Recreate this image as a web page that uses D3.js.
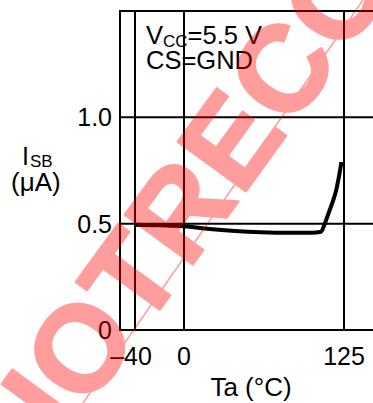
<!DOCTYPE html>
<html>
<head>
<meta charset="utf-8">
<script src="https://cdn.jsdelivr.net/npm/d3@7"></script>
<style>
html,body{margin:0;padding:0;background:#fff;}
svg{display:block;}
text{font-family:"Liberation Sans",Arial,Helvetica,sans-serif;fill:#000;}
</style>
</head>
<body>
<svg id="c" width="373" height="403"></svg>
<script>
// ---- data ----
const tempC   = [-40, -20, 0, 20, 40, 60, 80, 100, 107, 110, 113, 116, 119, 121, 123];
const isbUA   = [0.495, 0.492, 0.488, 0.475, 0.466, 0.460, 0.457, 0.457, 0.462, 0.50, 0.55, 0.60, 0.66, 0.72, 0.79];
const xTickVals   = [-40, 0, 125];
const xTickLabels = ["\u201340", "0", "125"];
const yTickVals   = [0, 0.5, 1.0];
const yTickLabels = ["0", "0.5", "1.0"];

const W = 373, H = 403;
const svg = d3.select("#c");

// scales (datasheet axis is slightly non-uniform between -40..0 and 0..125)
const x = d3.scaleLinear().domain([-52, -40, 0, 125, 150]).range([120, 135, 184, 344, 376]);
const y = d3.scaleLinear().domain([0, 1.5]).range([330, 11]);

const pL = x(-52), pR = W, pT = y(1.5), pB = y(0);

const g = svg.append("g");

// horizontal grid lines (incl. frame top/bottom)
g.selectAll("line.h").data(yTickVals.concat([1.5])).enter().append("line")
  .attr("x1", pL).attr("x2", pR)
  .attr("y1", d => y(d)).attr("y2", d => y(d))
  .attr("stroke", "#000").attr("stroke-width", 2);

// vertical lines (frame left + ticks)
g.selectAll("line.v").data([-52].concat(xTickVals)).enter().append("line")
  .attr("x1", d => x(d)).attr("x2", d => x(d))
  .attr("y1", pT - 1).attr("y2", pB + 1)
  .attr("stroke", "#000").attr("stroke-width", 2);

// y tick labels
g.selectAll("text.yl").data(yTickVals).enter().append("text")
  .attr("x", 112).attr("y", d => y(d)).attr("dy", "0.36em")
  .attr("text-anchor", "end").attr("font-size", 25)
  .text((d, i) => yTickLabels[i]);

// x tick labels
g.selectAll("text.xl").data(xTickVals).enter().append("text")
  .attr("x", (d, i) => x(d) + (i === 0 ? -4 : 0)).attr("y", 365)
  .attr("text-anchor", "middle").attr("font-size", 25)
  .text((d, i) => xTickLabels[i]);

// axis titles
svg.append("text").attr("x", 251).attr("y", 396).attr("text-anchor", "middle")
  .attr("font-size", 26).text("Ta (\u00B0C)");

const yl = svg.append("text").attr("x", 22).attr("y", 165).attr("font-size", 25);
yl.append("tspan").text("I");
yl.append("tspan").attr("font-size", 17).attr("dy", 2).attr("dx", 1).text("SB");
svg.append("text").attr("x", 11).attr("y", 191).attr("font-size", 26).text("(\u03BCA)");

// annotation
const a1 = svg.append("text").attr("x", 146).attr("y", 44).attr("font-size", 25.5);
a1.append("tspan").text("V");
a1.append("tspan").attr("font-size", 17).attr("dy", 3).text("CC");
a1.append("tspan").attr("dy", -3).text("=5.5 V");
svg.append("text").attr("x", 146).attr("y", 69).attr("font-size", 25.5).text("CS=GND");

// data curve
const line = d3.line().x((d, i) => x(tempC[i])).y(d => y(d)).curve(d3.curveMonotoneX);
svg.append("path").attr("d", line(isbUA))
  .attr("fill", "none").attr("stroke", "#000").attr("stroke-width", 4)
  .attr("stroke-linejoin", "round");

// watermark overlay
const wm = svg.append("g").attr("opacity", 0.38);
wm.append("line").attr("x1", 83).attr("y1", 403).attr("x2", 363).attr("y2", 0)
  .attr("stroke", "#ff0000").attr("stroke-width", 1.5);
wm.append("text").attr("transform", "translate(65,440) rotate(-54)")
  .attr("font-size", 122).attr("font-weight", "bold")
  .attr("letter-spacing", 2)
  .style("fill", "#ff0000").style("stroke", "#ff0000").style("stroke-width", 2.5)
  .style("stroke-linejoin", "round")
  .text("IOTRECO");
</script>
</body>
</html>
